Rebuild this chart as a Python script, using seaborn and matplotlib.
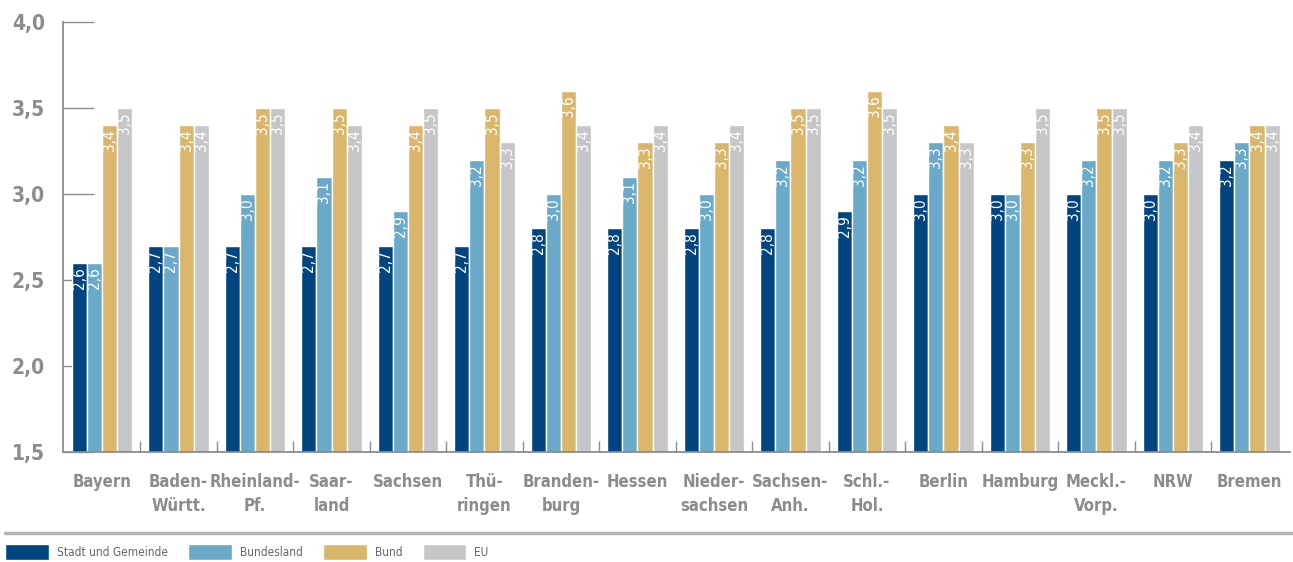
import numpy as np
import pandas as pd
import matplotlib
matplotlib.use('Agg')
import matplotlib.pyplot as plt
import seaborn as sns
from matplotlib.lines import Line2D
from matplotlib.ticker import FuncFormatter, MultipleLocator

sns.set_theme(style='white')
plt.rcParams['font.family'] = ['DejaVu Sans']
plt.rcParams['font.stretch'] = 'condensed'

regions = ['Bayern', 'Baden-\nWürtt.', 'Rheinland-\nPf.', 'Saar-\nland', 'Sachsen',
           'Thü-\nringen', 'Branden-\nburg', 'Hessen', 'Nieder-\nsachsen', 'Sachsen-\nAnh.',
           'Schl.-\nHol.', 'Berlin', 'Hamburg', 'Meckl.-\nVorp.', 'NRW', 'Bremen']
stadt = [2.6, 2.7, 2.7, 2.7, 2.7, 2.7, 2.8, 2.8, 2.8, 2.8, 2.9, 3.0, 3.0, 3.0, 3.0, 3.2]
bundesland = [2.6, 2.7, 3.0, 3.1, 2.9, 3.2, 3.0, 3.1, 3.0, 3.2, 3.2, 3.3, 3.0, 3.2, 3.2, 3.3]
bund = [3.4, 3.4, 3.5, 3.5, 3.4, 3.5, 3.6, 3.3, 3.3, 3.5, 3.6, 3.4, 3.3, 3.5, 3.3, 3.4]
eu = [3.5, 3.4, 3.5, 3.4, 3.5, 3.3, 3.4, 3.4, 3.4, 3.5, 3.5, 3.3, 3.5, 3.5, 3.4, 3.4]

series = ['Stadt und Gemeinde', 'Bundesland', 'Bund', 'EU']
colors = ['#00457f', '#6aaac8', '#dab66a', '#c6c6c8']

df = pd.DataFrame({'region': regions * 4,
                   'ebene': np.repeat(series, len(regions)),
                   'wert': stadt + bundesland + bund + eu})

fig = plt.figure(figsize=(12.93, 5.62), dpi=100)
ax = fig.add_axes([63 / 1293, 110 / 562, (1290 - 63) / 1293, 430 / 562])

sns.barplot(data=df, x='region', y='wert', hue='ebene', hue_order=series,
            palette=colors, width=0.79, gap=0, edgecolor='white', linewidth=1,
            saturation=1, ax=ax, legend=True)

# value labels inside the bars
for cont, vals in zip(ax.containers, [stadt, bundesland, bund, eu]):
    for bar, v in zip(cont, vals):
        ax.annotate(f'{v:.1f}'.replace('.', ','),
                    (bar.get_x() + bar.get_width() / 2, bar.get_height()),
                    xytext=(0, -3), textcoords='offset points',
                    rotation=90, ha='center', va='top', color='white',
                    fontsize=11, fontweight='medium')

ax.set_ylim(1.5, 4.0)
ax.set_xlim(-0.51, 15.53)
ax.yaxis.set_major_locator(MultipleLocator(0.5))
ax.yaxis.set_major_formatter(FuncFormatter(lambda v, p: f'{v:.1f}'.replace('.', ',')))
ax.set_xlabel('')
ax.set_ylabel('')

grey = '#8c8c8c'
for s in ['top', 'right']:
    ax.spines[s].set_visible(False)
ax.spines['left'].set_color(grey)
ax.spines['left'].set_linewidth(1.3)
ax.spines['bottom'].set_color(grey)
ax.spines['bottom'].set_linewidth(1.3)

ax.tick_params(axis='y', direction='in', length=22, width=1, color=grey, pad=13,
               labelsize=15, labelcolor=grey, left=True)
for t in ax.get_yticklabels():
    t.set_fontweight('bold')
ax.tick_params(axis='x', which='major', length=0, pad=15, labelsize=12, labelcolor=grey)
for t in ax.get_xticklabels():
    t.set_fontweight('bold')
    t.set_linespacing(1.45)
ax.set_xticks(np.arange(len(regions) - 1) + 0.5, minor=True)
ax.tick_params(axis='x', which='minor', direction='in', length=8, width=1, color=grey,
               bottom=True)

# separator line and legend below
fig.add_artist(Line2D([5 / 1293, 1], [1 - 533 / 562] * 2, color='#b4b4b4', lw=2.5))
handles, labels = ax.get_legend_handles_labels()
ax.get_legend().remove()
fig.legend(handles, labels, loc='center left', bbox_to_anchor=(5 / 1293, 1 - 552 / 562),
           ncol=4, frameon=False, fontsize=8.5, handlelength=3.7, handleheight=1.6,
           handletextpad=0.7, columnspacing=1.7, borderpad=0, borderaxespad=0,
           labelcolor='#666666')

fig.savefig('out.png', dpi=100)
